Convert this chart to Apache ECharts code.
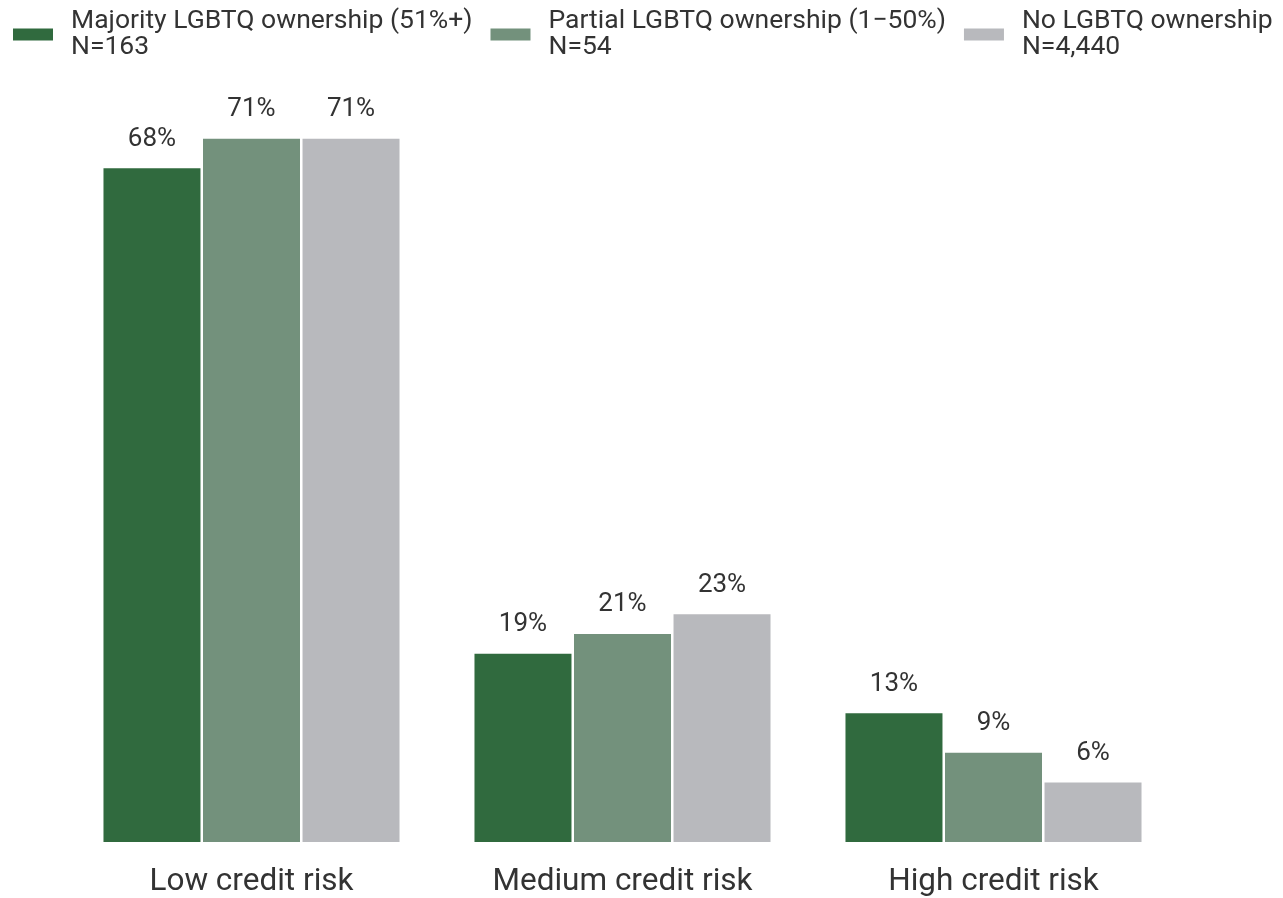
<!DOCTYPE html>
<html><head><meta charset="utf-8">
<script src="https://cdn.jsdelivr.net/npm/echarts@6/dist/echarts.min.js"></script>
<style>html,body{margin:0;padding:0;background:#fff}#c{width:1283px;height:898px}</style>
</head><body><div id="c"></div>
<script>
const categories = ['Low credit risk', 'Medium credit risk', 'High credit risk'];
const seriesNames = ['Majority LGBTQ ownership (51%+)\nN=163', 'Partial LGBTQ ownership (1\u221250%)\nN=54', 'No LGBTQ ownership\nN=4,440'];
const majority = [68, 19, 13];
const partial = [71, 21, 9];
const none = [71, 23, 6];
const colors = ['#306a3e', '#73917c', '#b8b9bd'];

const chart = echarts.init(document.getElementById('c'), null, {renderer: 'canvas'});
const font = 'Roboto, "Noto Sans", sans-serif';
const values = [majority, partial, none];
chart.setOption({
  animation: false,
  textStyle: {fontFamily: font},
  legend: {
    top: 8, left: 13, padding: 0, itemWidth: 40, itemHeight: 12, itemGap: 18,
    icon: 'rect',
    textStyle: {fontSize: 26.5, color: '#333', fontFamily: font, lineHeight: 26, padding: [0,0,0,13]},
    data: seriesNames
  },
  grid: {left: 66, right: 104, top: 99, bottom: 56},
  xAxis: {
    type: 'category', data: categories,
    axisLine: {show: false}, axisTick: {show: false},
    axisLabel: {fontSize: 31.5, color: '#333', margin: 24, fontFamily: font}
  },
  yAxis: {type: 'value', min: 0, max: 75, show: false, splitLine: {show: false}},
  series: seriesNames.map((n, i) => ({
    name: n, type: 'bar', data: values[i],
    barWidth: 97, barGap: '2.6%',
    itemStyle: {color: colors[i]},
    label: {show: true, position: 'top', distance: 16, fontSize: 26, color: '#333', fontFamily: font, formatter: '{c}%'}
  }))
});
</script></body></html>
